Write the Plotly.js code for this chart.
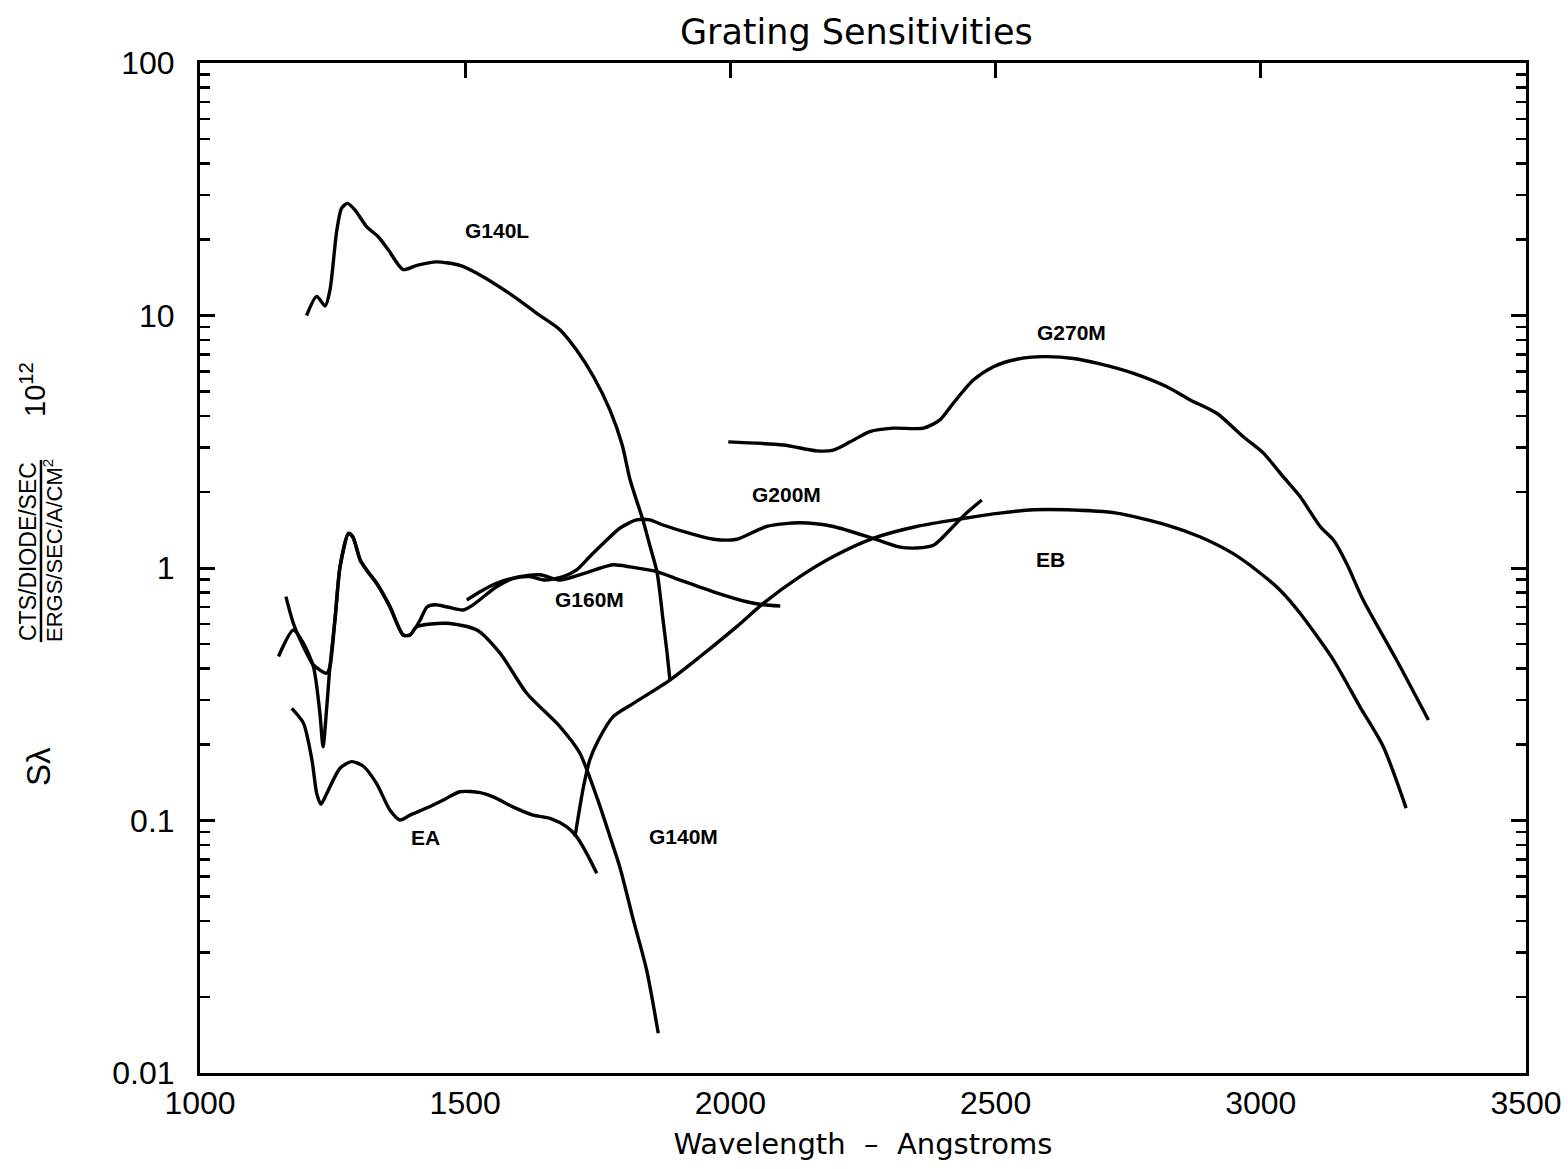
<!DOCTYPE html>
<html><head><meta charset="utf-8">
<script src="https://cdn.plot.ly/plotly-3.0.1.min.js"></script>
<style>html,body{margin:0;padding:0;background:#fff}</style>
</head><body>
<div id="chart" style="width:1568px;height:1169px"></div>
<script>
// Wavelength (Angstroms) and sensitivity (x 10^12)
const g140lWave = [1201,1220,1236,1245,1258,1267,1278,1292,1314,1336,1355,1383,1409,1446,1490,1522,1584,1635,1679,1710,1742,1773,1796,1811,1835,1848,1862,1873,1880,1886];
const g140lSens = [10.0,11.9,10.9,12.6,21.8,26.6,27.8,26.2,22.5,20.5,18.2,15.2,15.8,16.3,15.8,14.7,12.2,10.2,8.77,7.3,5.72,4.22,3.07,2.23,1.55,1.23,0.955,0.622,0.473,0.36];

const g140mWave = [1162,1176,1195,1214,1239,1245,1255,1264,1280,1288,1302,1314,1333,1358,1383,1396,1409,1465,1522,1566,1616,1679,1716,1748,1773,1792,1817,1842,1864];
const g140mSens = [0.77,0.604,0.488,0.413,0.383,0.407,0.641,1.01,1.37,1.33,1.076,0.982,0.87,0.703,0.543,0.543,0.586,0.604,0.568,0.459,0.319,0.235,0.185,0.124,0.0863,0.0649,0.0404,0.0256,0.01436];

const g200mWave = [1148,1176,1195,1214,1226,1232,1239,1245,1255,1264,1280,1288,1302,1314,1333,1358,1383,1396,1415,1428,1443,1466,1496,1515,1559,1591,1622,1650,1685,1710,1735,1760,1792,1823,1848,1873,1924,1968,2012,2068,2131,2194,2269,2320,2351,2383,2420,2445,2474];
const g200mSens = [0.446,0.568,0.503,0.405,0.267,0.196,0.282,0.407,0.641,1.01,1.37,1.33,1.076,0.982,0.87,0.703,0.543,0.543,0.622,0.701,0.715,0.701,0.682,0.715,0.843,0.91,0.924,0.896,0.924,0.982,1.11,1.25,1.44,1.55,1.55,1.48,1.37,1.30,1.30,1.46,1.51,1.46,1.31,1.21,1.20,1.23,1.46,1.65,1.86];

const g160mWave = [1503,1528,1559,1603,1641,1679,1716,1779,1811,1861,1905,1968,2031,2062,2094];
const g160mSens = [0.747,0.805,0.87,0.924,0.94,0.896,0.94,1.03,1.01,0.967,0.896,0.805,0.735,0.715,0.707];

const ebWave = [1707,1723,1735,1751,1779,1817,1886,1943,2012,2062,2131,2194,2269,2351,2439,2508,2571,2634,2728,2823,2885,2948,2992,3036,3074,3137,3187,3231,3274];
const ebSens = [0.0863,0.136,0.174,0.208,0.258,0.291,0.36,0.446,0.586,0.724,0.924,1.11,1.31,1.46,1.57,1.65,1.70,1.70,1.65,1.48,1.33,1.14,0.98,0.818,0.662,0.432,0.282,0.196,0.112];

const g270mWave = [1996,2100,2163,2194,2226,2263,2307,2364,2395,2420,2458,2496,2540,2590,2647,2697,2760,2823,2867,2917,2967,3005,3042,3074,3112,3137,3162,3193,3256,3316];
const g270mSens = [3.16,3.07,2.91,2.93,3.16,3.47,3.58,3.58,3.86,4.49,5.55,6.27,6.71,6.87,6.76,6.43,5.90,5.22,4.63,4.10,3.31,2.85,2.30,1.92,1.46,1.29,1.04,0.747,0.432,0.25];

const eaWave = [1173,1195,1211,1220,1228,1239,1264,1286,1308,1333,1358,1377,1396,1427,1459,1490,1528,1553,1591,1628,1660,1691,1710,1729,1748];
const eaSens = [0.278,0.243,0.174,0.128,0.116,0.128,0.161,0.171,0.164,0.14,0.11,0.1005,0.105,0.112,0.1206,0.13,0.129,0.124,0.113,0.105,0.102,0.0945,0.0863,0.0741,0.0618];

const labelText = ['G140L','G270M','G200M','EB','G160M','EA','G140M'];
const labelWave = [1560,2644,2105,2604,1735,1426,1911];
const labelSens = [21.8,8.6,1.95,1.076,0.747,0.0853,0.0868];

const FONT = '"Liberation Sans", Arial, sans-serif';
const WIDE = '"DejaVu Sans", "Liberation Sans", sans-serif';
const series = [
  [g140lWave,g140lSens],[g140mWave,g140mSens],[g200mWave,g200mSens],
  [g160mWave,g160mSens],[ebWave,ebSens],[g270mWave,g270mSens],[eaWave,eaSens]
];
const traces = series.map(s => ({
  x: s[0], y: s[1], type: 'scatter', mode: 'lines',
  line: {color: '#000', width: 3.4, shape: 'spline', smoothing: 0.7},
  hoverinfo: 'skip', showlegend: false
}));

const annotations = labelText.map((t,i) => ({
  x: labelWave[i], y: Math.log10(labelSens[i]), xref: 'x', yref: 'y',
  xanchor: 'center', yanchor: 'middle',
  text: '<b>' + t + '</b>', showarrow: false,
  font: {family: FONT, size: 21, color: '#000'}
}));
// y-axis title pieces (rotated)
const px2x = p => (p - 200) / 1326;
const py2y = p => (1073 - p) / 1010;
const ytitle = (px, py, txt, sz) => ({xref:'paper', yref:'paper', x: px2x(px), y: py2y(py),
  xanchor:'center', yanchor:'middle', text: txt, textangle: -90, showarrow: false,
  font: {family: FONT, size: sz, color: '#000'}});
annotations.push(
  ytitle(38, 767, 'Sλ', 33),
  ytitle(28, 551, 'CTS/DIODE/SEC', 23),
  ytitle(53, 551, 'ERGS/SEC/A/CM<sup>2</sup>', 22),
  ytitle(33, 390, '10<sup>12</sup>', 29)
);

const layout = {
  width: 1568, height: 1169,
  margin: {l: 200, r: 42, t: 63, b: 96},
  paper_bgcolor: '#fff', plot_bgcolor: '#fff',
  font: {family: FONT, color: '#000'},
  title: {text: 'Grating Sensitivities', x: 0.495, xref: 'paper', xanchor: 'center', y: 1 - 32/1169, yanchor: 'middle',
          font: {family: WIDE, size: 35, color: '#000'}},
  xaxis: {
    range: [1000, 3500], dtick: 500, tick0: 1000,
    showline: true, linewidth: 3, linecolor: '#000', mirror: true,
    ticks: '', showgrid: false, zeroline: false,
    tickfont: {family: FONT, size: 32, color: '#000'},
    title: {text: 'Wavelength  –  Angstroms', standoff: 14, font: {family: WIDE, size: 29, color: '#000'}},
    automargin: false
  },
  xaxis2: {
    range: [1000, 3500], dtick: 500, tick0: 1000, overlaying: 'x', side: 'top', matches: 'x',
    ticks: 'inside', ticklen: 15, tickwidth: 3, tickcolor: '#000',
    showticklabels: false, showline: false, showgrid: false, zeroline: false
  },
  yaxis: {
    type: 'log', range: [-2, 2], dtick: 1, exponentformat: 'none',
    showline: true, linewidth: 3, linecolor: '#000', mirror: 'ticks',
    ticks: 'inside', ticklen: 15, tickwidth: 3, tickcolor: '#000',
    minor: {ticks: 'inside', ticklen: 10, tickwidth: 2.5, tickcolor: '#000', dtick: 'D1', showgrid: false},
    showgrid: false, zeroline: false,
    ticklabelstandoff: 16,
    tickfont: {family: FONT, size: 32, color: '#000'},
    automargin: false
  },
  shapes: [
    {type: 'line', xref: 'paper', yref: 'paper', x0: px2x(41), x1: px2x(41), y0: py2y(460), y1: py2y(642),
     line: {color: '#000', width: 2.5}}
  ],
  annotations: annotations
};

// invisible helper trace so the top tick axis is drawn
traces.push({x: [1000, 3500], y: [null, null], xaxis: 'x2', yaxis: 'y', type: 'scatter', mode: 'lines',
  hoverinfo: 'skip', showlegend: false});

Plotly.newPlot('chart', traces, layout, {staticPlot: true, displayModeBar: false});
</script>
</body></html>
